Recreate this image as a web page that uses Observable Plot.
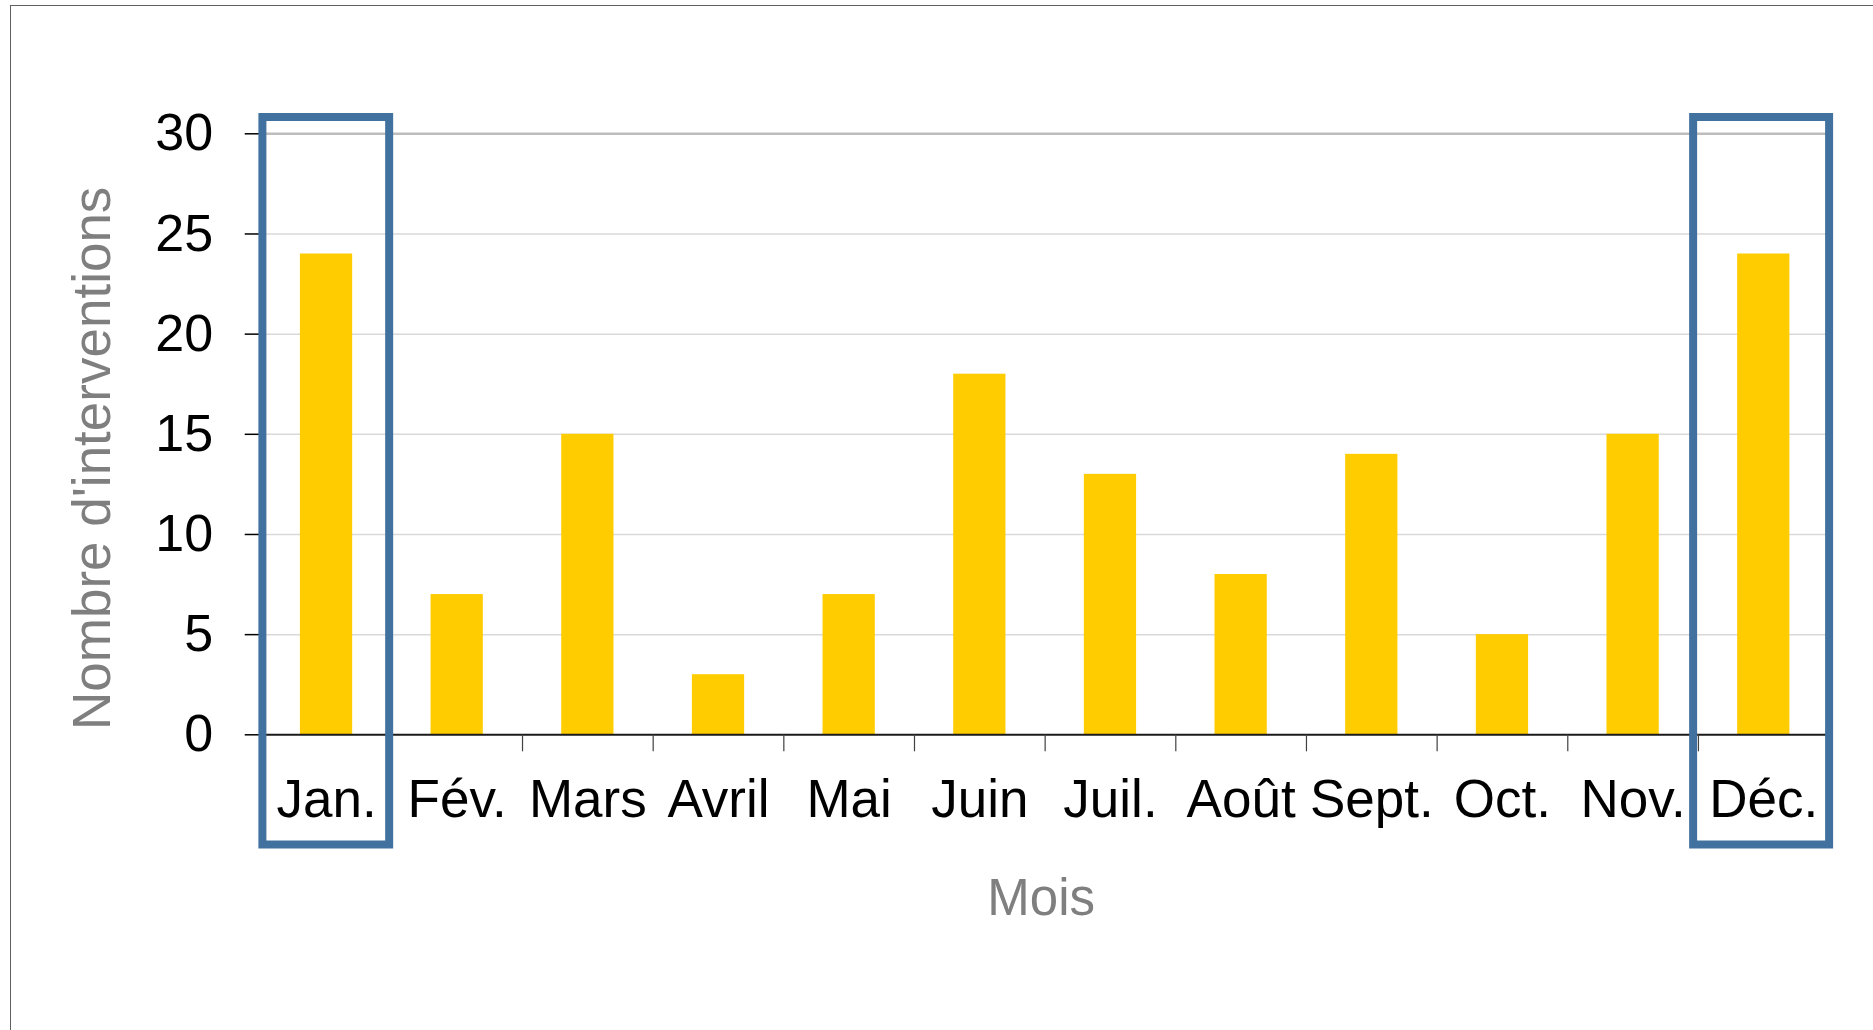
<!DOCTYPE html>
<html><head><meta charset="utf-8">
<script src="https://cdn.jsdelivr.net/npm/d3@7"></script>
<script src="https://cdn.jsdelivr.net/npm/@observablehq/plot@0.6"></script>
<style>
html,body{margin:0;padding:0;background:#fff;width:1873px;height:1030px;overflow:hidden;}
#chart{position:absolute;left:0;top:0;}
#frame{position:absolute;left:10px;top:5px;width:1900px;height:1100px;border-top:1.5px solid #5f5f5f;border-left:1.5px solid #5f5f5f;pointer-events:none;}
</style></head><body>
<div id="chart"></div><div id="frame"></div>
<script>
const months = ["Jan.","Fév.","Mars","Avril","Mai","Juin","Juil.","Août","Sept.","Oct.","Nov.","Déc."];
const interventions = [24,7,15,3,7,18,13,8,14,5,15,24];
const yTicks = [0,5,10,15,20,25,30];
const highlightLeft = ["Jan."];
const highlightRight = ["Déc."];
const xLabel = "Mois";
const yLabel = "Nombre d'interventions";

const data = months.map((m,i)=>({month:m, value:interventions[i]}));

const W = 1873, H = 1030;
const mL = 260.7, mR = W - 1828.6, mT = 133.3, mB = H - 734.3;
const step = (W - mL - mR) / months.length;
const font = "'Liberation Sans', Arial, Helvetica, sans-serif";

const plot = Plot.plot({
  width: W, height: H,
  marginLeft: mL, marginRight: mR, marginTop: mT, marginBottom: mB,
  style: {fontFamily: font, fontSize: "51px", color: "#000", background: "transparent", overflow: "visible"},
  x: {domain: months, paddingInner: 0.6, paddingOuter: 0.3, round: false, label: null, axis: null},
  y: {domain: [0, 30], label: null, axis: null},
  marks: [
    Plot.ruleY(yTicks.filter(t => t > 0 && t < 30), {stroke: "#d9d9d9", strokeWidth: 1.5}),
    Plot.ruleY([30], {stroke: "#bdbdbd", strokeWidth: 2.5}),
    Plot.barY(data, {x: "month", y: "value", fill: "#ffcc00"}),
    Plot.ruleY([0], {stroke: "#1a1a1a", strokeWidth: 2}),
    Plot.ruleX(months.slice(1), {x: d => d, y1: 0, y2: 0, dx: -step / 2, insetBottom: -17, stroke: "#404040", strokeWidth: 1.2}),
    Plot.axisY(yTicks, {tickSize: 16, tickPadding: 32, stroke: "#000", strokeWidth: 1.5, fontSize: 52, fill: "#000"}),
    Plot.axisX(months, {tickSize: 0, tickPadding: 45, fontSize: 53, fill: "#000"}),
    Plot.barY(highlightLeft, {x: d => d, y1: 0, y2: 30, fill: "none", stroke: "#41729f", strokeWidth: 8,
      insetLeft: -37.5, insetRight: -37, insetTop: -16.3, insetBottom: -110.2}),
    Plot.barY(highlightRight, {x: d => d, y1: 0, y2: 30, fill: "none", stroke: "#41729f", strokeWidth: 8,
      insetLeft: -44, insetRight: -39.7, insetTop: -16.3, insetBottom: -110.2}),
    Plot.text([yLabel], {text: d => d, frameAnchor: "left", textAnchor: "middle", lineAnchor: "middle", rotate: -90, dx: -167.7, dy: 24, fontSize: 53, fill: "#7f7f7f", fontFamily: font}),
    Plot.text([xLabel], {text: d => d, frameAnchor: "bottom", textAnchor: "middle", lineAnchor: "middle", dx: -4, dy: 163.7, fontSize: 51, fill: "#7f7f7f", fontFamily: font})
  ]
});
document.getElementById("chart").appendChild(plot);
</script>
</body></html>
